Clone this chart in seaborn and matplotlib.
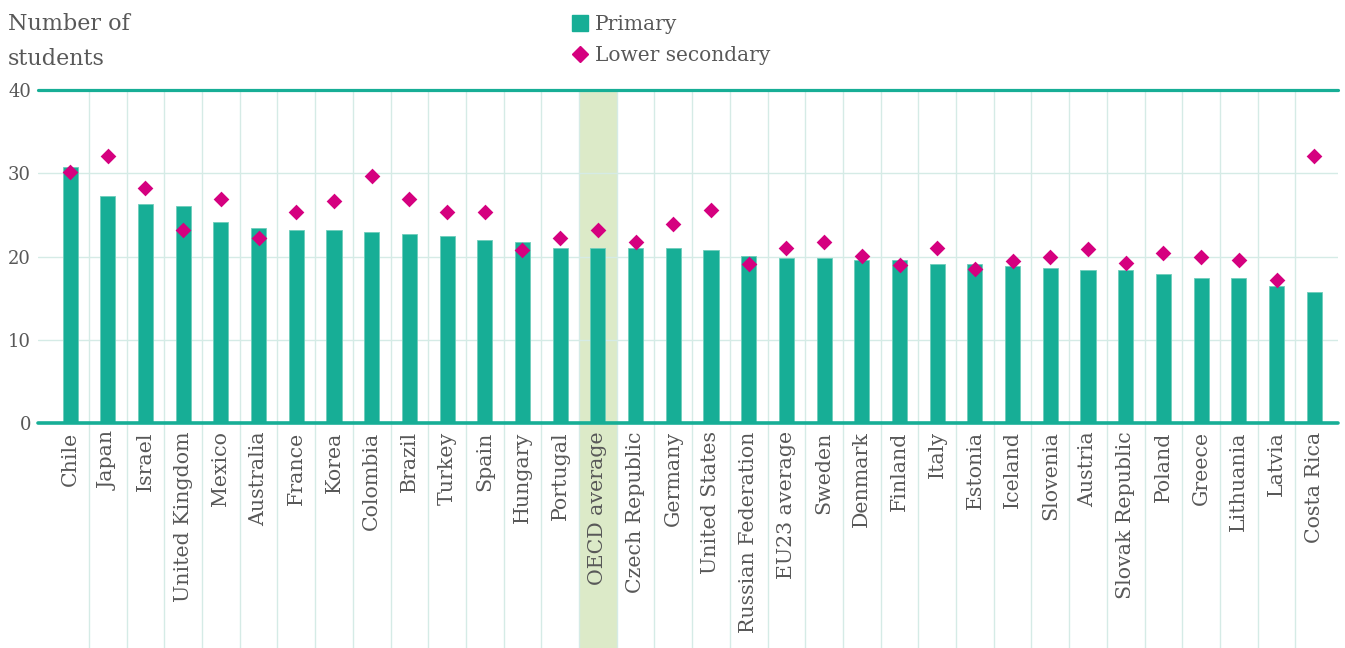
import numpy as np
import pandas as pd
import matplotlib
matplotlib.use("Agg")
import matplotlib.pyplot as plt
import seaborn as sns
from matplotlib.lines import Line2D

countries = ["Chile", "Japan", "Israel", "United Kingdom", "Mexico", "Australia",
             "France", "Korea", "Colombia", "Brazil", "Turkey", "Spain", "Hungary",
             "Portugal", "OECD average", "Czech Republic", "Germany", "United States",
             "Russian Federation", "EU23 average", "Sweden", "Denmark", "Finland",
             "Italy", "Estonia", "Iceland", "Slovenia", "Austria", "Slovak Republic",
             "Poland", "Greece", "Lithuania", "Latvia", "Costa Rica"]
primary = [30.8, 27.3, 26.3, 26.1, 24.1, 23.4, 23.2, 23.2, 22.9, 22.7, 22.5, 22.0,
           21.7, 21.0, 21.0, 21.0, 21.0, 20.8, 20.1, 19.8, 19.8, 19.6, 19.6, 19.1,
           19.1, 18.9, 18.6, 18.4, 18.4, 17.9, 17.4, 17.4, 16.5, 15.7]
lower_secondary = [30.1, 32.1, 28.2, 23.2, 26.9, 22.2, 25.3, 26.7, 29.7, 26.9, 25.3,
                   25.3, 20.8, 22.2, 23.2, 21.7, 23.9, 25.6, 19.1, 21.0, 21.7, 20.1,
                   19.0, 21.0, 18.5, 19.5, 19.9, 20.9, 19.2, 20.4, 19.9, 19.6, 17.2,
                   32.1]
highlight = "OECD average"
yticks = [0, 10, 20, 30, 40]
series_names = ["Primary", "Lower secondary"]
ylabel_text = "Number of\nstudents"

TEAL = "#17AE96"
MAGENTA = "#D5007F"
TXT = "#585858"
GRID = "#D5EBE6"
BAND = "#DCEAC8"

sns.set_theme(style="white")
plt.rcParams["font.family"] = ["DejaVu Serif", "DejaVu Sans"]

df = pd.DataFrame({"country": countries, "primary": primary, "lower": lower_secondary})

fig = plt.figure(figsize=(13.45, 6.48), dpi=100)
ax = fig.add_axes([38 / 1345, 1 - 423 / 648, 1300 / 1345, 333 / 648])

n = len(countries)
hi = countries.index(highlight)
ax.axvspan(hi - 0.5, hi + 0.5, ymin=-1.68, ymax=1, color=BAND, lw=0, zorder=0, clip_on=False)
for b in np.arange(n - 1) + 0.5:
    ax.axvline(b, ymin=-1.68, ymax=1, color=GRID, lw=1, zorder=0.5, clip_on=False)
for t in yticks[1:-1]:
    ax.axhline(t, color=GRID, lw=1, zorder=0.5)

sns.barplot(data=df, x="country", y="primary", order=countries, color=TEAL,
            width=0.4, saturation=1, edgecolor="#6FCDBB", linewidth=0.6, ax=ax, zorder=2)
sns.stripplot(data=df, x="country", y="lower", order=countries, color=MAGENTA,
              marker="D", size=8, jitter=False, linewidth=0, ax=ax, zorder=3)

ax.axhline(yticks[-1], color=TEAL, lw=2.3, zorder=4, clip_on=False)
ax.axhline(0, color=TEAL, lw=2.6, zorder=4, clip_on=False)

ax.set_xlim(-0.85, 33.63)
ax.set_ylim(0, 40)
ax.set_yticks(yticks)
ax.set_yticklabels([str(t) for t in yticks])
ax.set_xlabel("")
ax.set_ylabel("")
for s in ax.spines.values():
    s.set_visible(False)
ax.tick_params(axis="y", length=0, pad=5, labelsize=13, labelcolor=TXT)
ax.tick_params(axis="x", length=0, pad=6, labelsize=14.8, labelcolor=TXT, rotation=90)
ax.grid(False)

fig.text(8 / 1345, 1 - 13 / 648, ylabel_text, ha="left", va="top", fontsize=16,
         color=TXT, linespacing=1.75)

handles = [Line2D([], [], marker="s", ls="none", color=TEAL, markersize=11),
           Line2D([], [], marker="D", ls="none", color=MAGENTA, markersize=8)]
leg = fig.legend(handles, series_names, loc="upper left",
                 bbox_to_anchor=(571 / 1345, 1 - 15 / 648), frameon=False,
                 fontsize=14.5, handlelength=0.9, handletextpad=0.3,
                 labelspacing=0.6, borderpad=0, borderaxespad=0)
for t in leg.get_texts():
    t.set_color(TXT)

fig.savefig("out.png", dpi=100)
